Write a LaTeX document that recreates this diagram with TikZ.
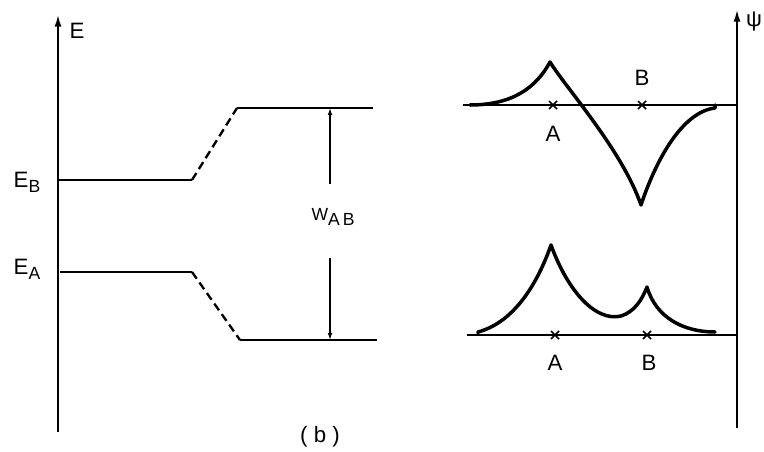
\documentclass[tikz,border=0pt]{standalone}
\usepackage{fontspec}
\setmainfont{Liberation Sans}
\usetikzlibrary{arrows.meta}
\begin{document}
\begin{tikzpicture}[x=0.03cm, y=-0.03cm, font=\fontsize{19}{22}\selectfont,
    axis/.style={line width=1.4pt, -{Latex[length=10pt, width=6pt]}},
    level/.style={line width=2pt},
    link/.style={line width=2pt, dash pattern=on 7pt off 4pt},
    psi/.style={line width=3pt, line join=round, line cap=round},
    lbl/.style={inner sep=1pt}]
  \useasboundingbox (0,0) rectangle (764,451);
  % energy levels
  \coordinate (EB0) at (58,180);  \coordinate (EB1) at (192,180);
  \coordinate (EA0) at (60,272);  \coordinate (EA1) at (192,272);
  \coordinate (U0) at (237,108);  \coordinate (U1) at (373,108);
  \coordinate (L0) at (240,340);  \coordinate (L1) at (377,340);
  \draw[axis] (58,432) -- (58,15);
  \node[lbl] (E) at (77,31) {E};
  \draw[level] (EB0) -- (EB1);  \draw[link] (EB1) -- (U0);  \draw[level] (U0) -- (U1);
  \draw[level] (EA0) -- (EA1);  \draw[link] (EA1) -- (L0);  \draw[level] (L0) -- (L1);
  \node[lbl] (EB) at (27,182) {E\raisebox{-4pt}{\fontsize{15}{15}\selectfont B}};
  \node[lbl] (EA) at (27,269) {E\raisebox{-4pt}{\fontsize{15}{15}\selectfont A}};
  \node[lbl] (W) at (333,217) {\fontsize{15}{15}\selectfont W\raisebox{-5pt}{A\,B}};
  \coordinate (Wt) at (330,108);  \coordinate (Wb) at (330,340);
  \draw[line width=0.9pt, -{Latex[length=6pt, width=4pt]}] (330,184) -- (Wt);
  \draw[line width=0.9pt, -{Latex[length=6pt, width=4pt]}] (330,258) -- (Wb);
  \node[lbl] (b) at (320,437) {( b )};
  % wave functions
  \draw[axis] (737,428) -- (737,10);
  \node[lbl] (P) at (754,22) {ψ};
  \draw[line width=1.6pt] (463,105) -- (737,105);
  \draw[line width=1.6pt] (467,335) -- (737,335);
  \foreach \x/\y in {553/105, 642/105, 555/335, 647/335}
    \draw[line width=1.3pt] (\x-4,\y-4) -- (\x+4,\y+4) (\x-4,\y+4) -- (\x+4,\y-4);
  \node[lbl] (A1) at (553,134) {A};
  \node[lbl] (B1) at (642,78) {B};
  \node[lbl] (A2) at (555,363) {A};
  \node[lbl] (B2) at (649,363) {B};
  \draw[psi] (470,105) .. controls (512,105) and (536,88) .. (550,62)
    .. controls (566,88) and (622,150) .. (641,205)
    .. controls (656,160) and (682,112) .. (715,108) -- (715,105);
  \draw[psi] (478,333) -- (478,332) .. controls (515,322) and (538,282) .. (551,245)
    .. controls (568,292) and (596,322) .. (621,316)
    .. controls (634,312) and (642,300) .. (647,287)
    .. controls (656,318) and (684,332) .. (715,332);
\end{tikzpicture}
\end{document}
